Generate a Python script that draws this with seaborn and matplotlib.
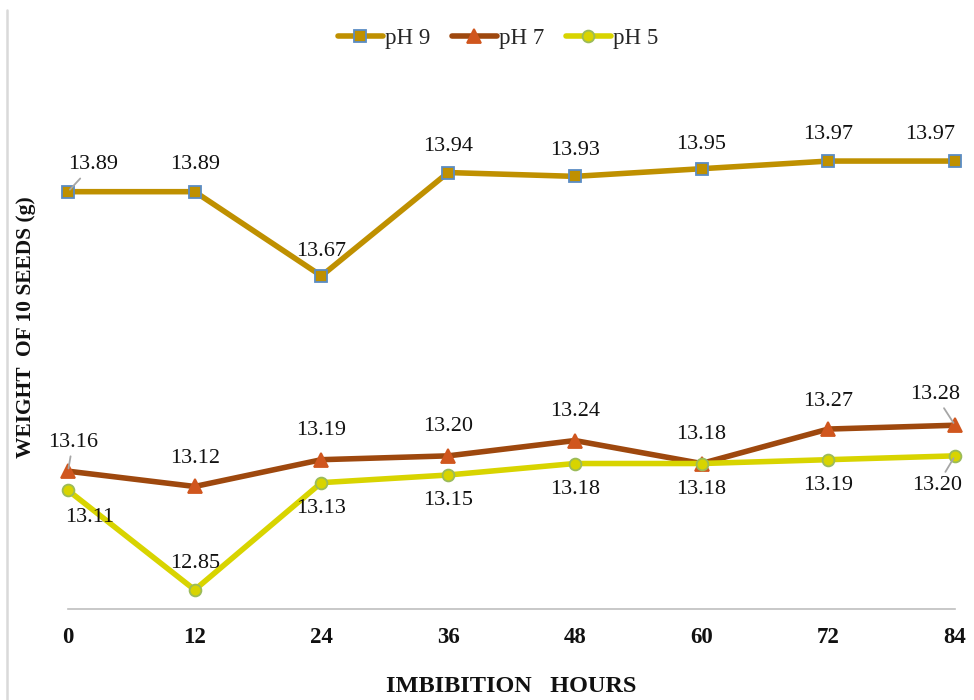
import matplotlib
matplotlib.use("Agg")
import matplotlib.pyplot as plt
from matplotlib.lines import Line2D
import seaborn as sns
import pandas as pd

# Imbibition time (hours) and seed weights per pH treatment
hours = [0, 12, 24, 36, 48, 60, 72, 84]
ph9 = [13.89, 13.89, 13.67, 13.94, 13.93, 13.95, 13.97, 13.97]
ph7 = [13.16, 13.12, 13.19, 13.20, 13.24, 13.18, 13.27, 13.28]
ph5 = [13.11, 12.85, 13.13, 13.15, 13.18, 13.18, 13.19, 13.20]
series_names = ["pH 9", "pH 7", "pH 5"]

df = pd.DataFrame({"hours": hours * 3,
                   "weight": ph9 + ph7 + ph5,
                   "series": [s for s in series_names for _ in hours]})

sns.set_theme(style="white")
plt.rcParams["font.family"] = ["Liberation Serif", "DejaVu Serif"]

fig = plt.figure(figsize=(9.74, 7.0), dpi=100)
ax = fig.add_axes([68 / 974, 1 - 609 / 700, (955 - 68) / 974, (609 - 73) / 700])

styles = {
    "pH 9": dict(color="#BF9000", marker="s", mfc="#BF9000", mec="#5B8CC4", ms=8.2),
    "pH 7": dict(color="#9E480E", marker="^", mfc="#D0561E", mec="#D0561E", ms=10.5),
    "pH 5": dict(color="#D8D400", marker="o", mfc="#D8D400", mec="#9BBB59", ms=8.5),
}
LW = 4.0

for name in series_names:
    st = styles[name]
    sns.lineplot(data=df[df["series"] == name], x="hours", y="weight", ax=ax,
                 color=st["color"], linewidth=LW, marker=st["marker"],
                 markerfacecolor=st["mfc"], markeredgecolor=st["mec"],
                 markeredgewidth=1.3, markersize=st["ms"], clip_on=False,
                 zorder=3, legend=False)

# Label offsets (pixels) for each point's value text
off9 = [(25, 27), (0, 27), (0, 24), (0, 26), (0, 26), (0, 24), (0, 27), (-25, 27)]
off7 = [(5, 29), (0, 28), (0, 29), (0, 29), (0, 29), (0, 29), (0, 28), (-20, 31)]
off5 = [(22, -27), (0, 26), (0, -26), (0, -26), (0, -26), (0, -26), (0, -26), (-18, -30)]
leader9 = [True] + [False] * 7
leader7 = [True] + [False] * 6 + [True]
leader5 = [False] * 7 + [True]

for vals, offs, leads in [(ph9, off9, leader9), (ph7, off7, leader7), (ph5, off5, leader5)]:
    for x, v, (dx, dy), lead in zip(hours, vals, offs, leads):
        kw = {}
        if lead:
            kw["arrowprops"] = dict(arrowstyle="-", color="#A6A6A6", lw=1.3,
                                    shrinkA=1, shrinkB=2)
        ax.annotate(f"{v:.2f}", xy=(x, v), xytext=(dx, dy), textcoords="offset pixels",
                    ha="center", va="center", fontsize=16, color="#111111",
                    annotation_clip=False, zorder=4, **kw)

ax.set_xlim(0, 84)
ax.set_ylim(12.8, 14.2)
ax.set_xticks(hours)
ax.set_xticklabels([str(h) for h in hours], fontsize=16.5, fontweight="bold")
ax.set_yticks([])
ax.set_ylabel("")
for side in ["top", "right", "left"]:
    ax.spines[side].set_visible(False)
ax.spines["bottom"].set_color("#BFBFBF")
ax.spines["bottom"].set_linewidth(1.2)
ax.tick_params(axis="x", direction="in", length=4.5, width=1.2, color="#BFBFBF",
               pad=13, labelcolor="#111111")

ax.set_xlabel("IMBIBITION   HOURS", fontsize=17.5, fontweight="bold", labelpad=20,
              color="#111111")
fig.text(26 / 974, 1 - 327 / 700, "WEIGHT  OF 10 SEEDS (g)", rotation=90,
         ha="center", va="center", fontsize=15.5, fontweight="bold", color="#111111")

handles = [Line2D([], [], color=styles[n]["color"], linewidth=LW, marker=styles[n]["marker"],
                  markerfacecolor=styles[n]["mfc"], markeredgecolor=styles[n]["mec"],
                  markeredgewidth=1.3, markersize=styles[n]["ms"]) for n in series_names]
fig.legend(handles, series_names, loc="center", bbox_to_anchor=(498 / 974, 1 - 38 / 700),
           ncol=3, frameon=False, fontsize=16.5, handlelength=1.95, columnspacing=0.95,
           handletextpad=0.1)

# Thin frame line along the left edge of the chart area
fig.add_artist(Line2D([7 / 974, 7 / 974], [0, 1 - 10 / 700], transform=fig.transFigure,
                      color="#D9D9D9", linewidth=1.8))

fig.savefig("out.png", dpi=100)
